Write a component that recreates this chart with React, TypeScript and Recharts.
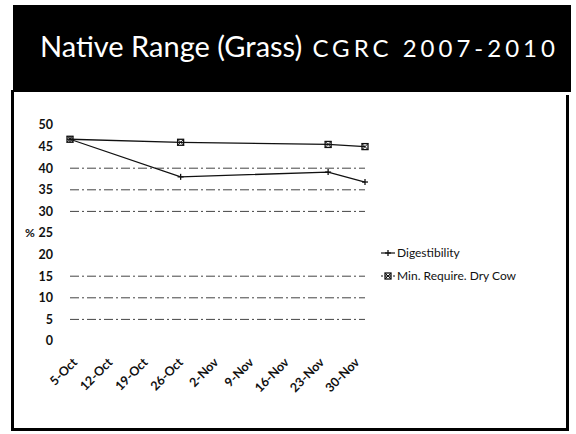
import React from "react";
import { LineChart, Line, XAxis, YAxis, ReferenceLine } from "recharts";

const dates = ["5-Oct", "12-Oct", "19-Oct", "26-Oct", "2-Nov", "9-Nov", "16-Nov", "23-Nov", "30-Nov"];
const digestibility = [46.7, null, null, 38, null, null, null, 39.1, 36.8];
const minRequireDryCow = [46.7, null, null, 46, null, null, null, 45.5, 45];
const yTicks = [0, 5, 10, 15, 20, 25, 30, 35, 40, 45, 50];
const gridValues = [5, 10, 15, 30, 35, 40];

const data = dates.map((d, i) => ({
  date: d,
  digestibility: digestibility[i],
  minReq: minRequireDryCow[i],
}));

const FONT = "Lato, 'Open Sans', sans-serif";

const PlusDot = (props: any) => {
  const { cx, cy, value } = props;
  if (value == null || cx == null) return null;
  return (
    <g>
      <line x1={cx - 3} y1={cy} x2={cx + 3} y2={cy} stroke="#111" strokeWidth={1.3} />
      <line x1={cx} y1={cy - 3} x2={cx} y2={cy + 3} stroke="#111" strokeWidth={1.3} />
    </g>
  );
};

const BoxDot = (props: any) => {
  const { cx, cy, value } = props;
  if (value == null || cx == null) return null;
  return (
    <g>
      <rect x={cx - 3} y={cy - 3} width={6} height={6} fill="none" stroke="#111" strokeWidth={1.3} />
      <line x1={cx - 3} y1={cy - 3} x2={cx + 3} y2={cy + 3} stroke="#111" strokeWidth={1} />
      <line x1={cx + 3} y1={cy - 3} x2={cx - 3} y2={cy + 3} stroke="#111" strokeWidth={1} />
    </g>
  );
};

// scanned labels sit a little tighter than the data points
const DateTick = (props: any) => {
  const { x, y, payload, index } = props;
  const i = index ?? payload.index ?? 0;
  return (
    <g transform={`translate(${x + 5 - i * 1.6},${y + 11}) rotate(-45)`}>
      <text textAnchor="end" dy="0.35em" fontSize={12.5} fontFamily={FONT} fontWeight={700} fill="#111">
        {payload.value}
      </text>
    </g>
  );
};

export default function App() {
  return (
    <div style={{ position: "absolute", left: 0, top: 0, width: 576, height: 434, background: "#fff", overflow: "hidden" }}>
      {/* title band */}
      <div style={{ position: "absolute", left: 13, top: 5, width: 558, height: 87, background: "#000" }} />
      <div
        style={{
          position: "absolute",
          left: 40,
          top: 28,
          color: "#fff",
          fontFamily: FONT,
          whiteSpace: "nowrap",
        }}
      >
        <span style={{ fontSize: 29 }}>Native Range (Grass)</span>
        <span style={{ fontSize: 24, letterSpacing: 4 }}> CGRC 2007-2010</span>
      </div>
      {/* slide frame */}
      <div style={{ position: "absolute", left: 11, top: 90, width: 3, height: 340, background: "#000" }} />
      <div style={{ position: "absolute", left: 11, top: 428, width: 558, height: 3, background: "#000" }} />
      <div style={{ position: "absolute", left: 566, top: 95, width: 3, height: 336, background: "#000" }} />

      <div style={{ position: "absolute", left: 0, top: 0 }}>
        <LineChart width={576} height={434} data={data} margin={{ top: 125, right: 211, bottom: 0, left: 0 }}>
          {gridValues.map((v) => (
            <ReferenceLine key={v} y={v} stroke="#444" strokeWidth={1} strokeDasharray="9 3 2 3" />
          ))}
          <XAxis
            dataKey="date"
            axisLine={false}
            tickLine={false}
            interval={0}
            tick={<DateTick />}
            height={93}
          />
          <YAxis
            domain={[0, 50]}
            ticks={yTicks}
            interval={0}
            axisLine={false}
            tickLine={false}
            tickSize={0}
            tickMargin={17}
            width={70}
            tick={{ fontSize: 12.5, fontFamily: FONT, fill: "#111", fontWeight: 700 }}
            label={{ value: "%", position: "insideLeft", offset: 25, fontSize: 12, fontFamily: FONT, fill: "#111", fontWeight: 700 }}
          />
          <Line
            type="linear"
            dataKey="minReq"
            name="Min. Require. Dry Cow"
            stroke="#111"
            strokeWidth={1.3}
            dot={<BoxDot />}
            connectNulls
            isAnimationActive={false}
          />
          <Line
            type="linear"
            dataKey="digestibility"
            name="Digestibility"
            stroke="#111"
            strokeWidth={1.3}
            dot={<PlusDot />}
            connectNulls
            isAnimationActive={false}
          />
        </LineChart>
      </div>

      {/* legend */}
      <div style={{ position: "absolute", left: 381, top: 241, fontFamily: FONT, fontSize: 12, color: "#111", lineHeight: "23px" }}>
        <div style={{ display: "flex", alignItems: "center" }}>
          <svg width={14} height={10} style={{ marginRight: 2 }}>
            <line x1={0} y1={5} x2={14} y2={5} stroke="#111" strokeWidth={1.2} />
            <PlusDot cx={7} cy={5} value={1} />
          </svg>
          Digestibility
        </div>
        <div style={{ display: "flex", alignItems: "center" }}>
          <svg width={14} height={10} style={{ marginRight: 2 }}>
            <line x1={0} y1={5} x2={14} y2={5} stroke="#111" strokeWidth={1.2} strokeDasharray="2 2" />
            <BoxDot cx={7} cy={5} value={1} />
          </svg>
          Min. Require. Dry Cow
        </div>
      </div>
    </div>
  );
}
